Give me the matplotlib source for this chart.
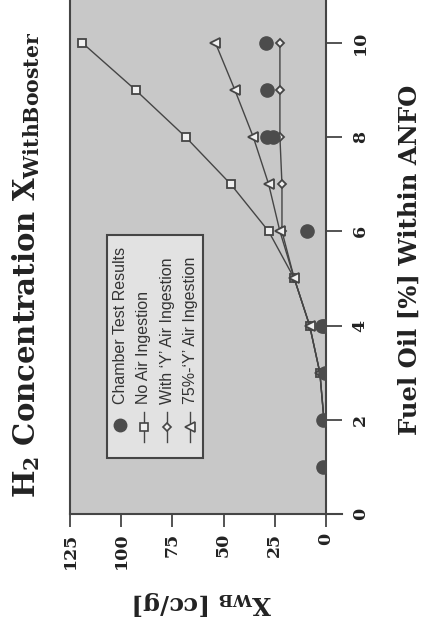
import matplotlib.pyplot as plt

# chart is drawn turned a quarter turn: fuel oil runs up, X_WB runs right-to-left
fuel = [2, 3, 4, 5, 6, 7, 8, 9, 10]
no_air = [1, 3, 8, 15.5, 28, 46.5, 68.5, 93, 119]
with_y = [1, 3, 8, 15.5, 21.5, 21.5, 22.5, 22.5, 22.5]
y75 = [1, 3, 8, 15.5, 22.5, 28, 35.5, 44.5, 54]

chamber_fuel = [1, 2, 3, 4, 4, 6, 8, 8, 9, 10]
chamber_xwb = [1.5, 1.5, 0.5, 2, 1, 9.5, 29, 26, 29, 29.5]

xwb_ticks = [0, 25, 50, 75, 100, 125]
fuel_ticks = [0, 2, 4, 6, 8, 10]
legend_labels = ["Chamber Test Results", "No Air Ingestion",
                 "With \u2018Y\u2019 Air Ingestion", "75%-\u2018Y\u2019 Air Ingestion"]

plt.rcParams['mathtext.fontset'] = 'dejavuserif'
dark = '#454545'
serif = 'DejaVu Serif'

fig = plt.figure(figsize=(4.25, 6.34), dpi=100)
ax = fig.add_axes([70 / 425, 120 / 634, 256 / 425, 514 / 634])
ax.set_facecolor('#c8c8c8')

line_kw = dict(color=dark, lw=1.0, mec=dark, mfc='#f0f0f0', mew=1.3)
ax.plot(no_air, fuel, marker='s', ms=6, **line_kw)
ax.plot(with_y, fuel, marker='D', ms=4, **line_kw)
ax.plot(y75, fuel, marker='<', ms=6.5, **line_kw)
ax.plot(chamber_xwb, chamber_fuel, 'o', ms=9.5, color='#4c4c4c', zorder=3)

ax.set_xlim(125, 0)
ax.set_ylim(0, 10.91)
ax.set_xticks(xwb_ticks)
ax.set_xticklabels([str(t) for t in xwb_ticks], rotation=90, family=serif,
                   fontsize=12.5, fontweight='bold')
ax.yaxis.tick_right()
ax.set_yticks(fuel_ticks)
ax.set_yticklabels([str(t) for t in fuel_ticks], rotation=90, va='center', family=serif,
                   fontsize=12.5, fontweight='bold')
ax.tick_params(axis='x', direction='out', length=9.5, width=1.3, pad=4, color=dark,
               labelcolor='#222222')
ax.tick_params(axis='y', direction='out', length=11.5, width=1.3, pad=7, color=dark,
               labelcolor='#222222')
ax.spines['top'].set_visible(False)
for s in ['left', 'right', 'bottom']:
    ax.spines[s].set_color(dark)
    ax.spines[s].set_linewidth(1.5)
ax.plot([1, 1.064], [0, 0], transform=ax.transAxes, color=dark, lw=1.5, clip_on=False)

# legend, turned with the chart
ax.add_patch(plt.Rectangle((0.1445, 0.109), 0.375, 0.434, transform=ax.transAxes,
                           facecolor='#e2e2e2', edgecolor=dark, lw=1.5, zorder=4))
cols = [0.197, 0.289, 0.379, 0.469]
ax.plot([cols[0]], [0.173], 'o', ms=9, color='#4c4c4c', transform=ax.transAxes, zorder=5)
for c, m, s in zip(cols[1:], ['s', 'D', '<'], [6, 4, 6.5]):
    ax.plot([c, c], [0.140, 0.198], transform=ax.transAxes, zorder=5, color=dark, lw=1.0)
    ax.plot([c], [0.170], transform=ax.transAxes, zorder=6, marker=m, ms=s,
            color=dark, mfc='#f0f0f0', mew=1.2)
for c, lab in zip(cols, legend_labels):
    ax.text(c, 0.214, lab, transform=ax.transAxes, rotation=90, ha='center', va='bottom',
            family='Liberation Sans', fontsize=11.5, color='#333333', zorder=6)

fig.text(0.062, 0.582, r'H$_{\mathbf{2}}$ Concentration X$_{\mathbf{WithBooster}}$',
         rotation=90, ha='center', va='center', family=serif, fontsize=21,
         fontweight='bold', color='#222222')
fig.text(0.963, 0.59, 'Fuel Oil [%] Within ANFO', rotation=90, ha='center', va='center',
         family=serif, fontsize=17.5, fontweight='bold', color='#222222')
fig.text(0.476, 0.049, r'X$_{\mathbf{WB}}$ [cc/g]', rotation=180, ha='center', va='center',
         family=serif, fontsize=17.5, fontweight='bold', color='#222222')

fig.savefig('out.png', dpi=100, facecolor='white')
